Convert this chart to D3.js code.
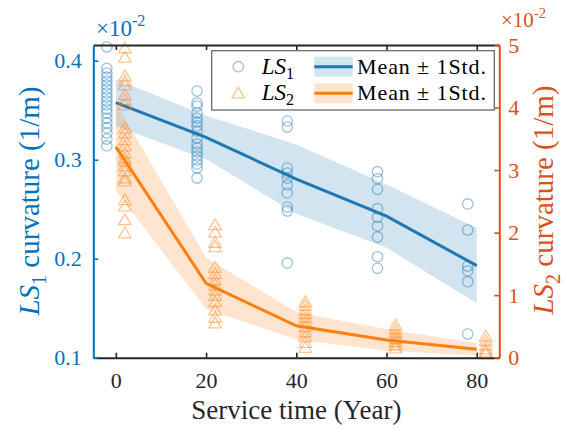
<!DOCTYPE html>
<html><head><meta charset="utf-8">
<script src="https://cdn.jsdelivr.net/npm/d3@7"></script>
<style>body{margin:0;background:#fff}svg{display:block}text{font-family:"Liberation Serif","Times New Roman",serif}</style>
</head><body><svg id="c" width="565" height="430"></svg>
<script>
// ---- data ----
const years = [0, 20, 40, 60, 80];
const xTicks = [0, 20, 40, 60, 80];
const leftTicks = [0.1, 0.2, 0.3, 0.4];
const rightTicks = [0, 1, 2, 3, 4, 5];
// LS1 curvature (x10^-2 1/m) samples per service year
const ls1Y0  = [0.4141,0.3923,0.3876,0.3835,0.3795,0.3755,0.3714,0.3674,0.3633,0.3593,0.3553,0.3512,0.3472,0.3421,0.3371,0.3321,0.3270,0.3209,0.3139];
const ls1Y20 = [0.3694,0.3573,0.3542,0.3472,0.3421,0.3381,0.3341,0.3290,0.3220,0.3159,0.3119,0.3078,0.3037,0.2997,0.2957,0.2916,0.2815];
const ls1Y40 = [0.3391,0.3330,0.2916,0.2866,0.2815,0.2745,0.2664,0.2522,0.2482,0.1957];
const ls1Y60 = [0.2879,0.2808,0.2701,0.2505,0.2418,0.2330,0.2219,0.2020,0.1903];
const ls1Y80 = [0.2553,0.2290,0.1926,0.1876,0.1768,0.1239];
const ls1Mean = [0.3576, 0.3225, 0.2805, 0.2430, 0.1930];
const ls1Std  = [0.0236, 0.0220, 0.0350, 0.0320, 0.0380];
// LS2 curvature (x10^-2 1/m)
const ls2Y0  = [4.95,4.80,4.50,4.42,4.36,4.20,4.12,4.04,3.67,3.59,3.48,3.38,3.27,3.19,3.14,3.06,2.98,2.87,2.82,2.52,2.42,2.20,1.99];
const ls2Y20 = [2.12,2.00,1.84,1.77,1.44,1.34,1.24,1.16,1.08,0.99,0.89,0.76,0.64,0.55];
const ls2Y40 = [0.89,0.83,0.76,0.70,0.64,0.57,0.49,0.41,0.33,0.24,0.16];
const ls2Y60 = [0.52,0.46,0.40,0.35,0.30,0.25,0.20,0.15];
const ls2Y80 = [0.34,0.27,0.20,0.14,0.10,0.06];
const ls2Mean = [3.37, 1.19, 0.51, 0.283, 0.135];
const ls2Std  = [0.70, 0.41, 0.22, 0.17, 0.10];

const ls1Groups = [ls1Y0, ls1Y20, ls1Y40, ls1Y60, ls1Y80];
const ls2Groups = [ls2Y0, ls2Y20, ls2Y40, ls2Y60, ls2Y80];

// ---- styling ----
const C_BLUE = "#1f77b4", C_ORANGE = "#ff7f0e";
const C_LAX = "#0072BD", C_RAX = "#D95319", C_BLACK = "#262626";
const L = 93.3, R = 499.3, T = 45, B = 357.7;
const FONT = '"Liberation Serif","Times New Roman",serif';
const svg = d3.select("#c");

const x = d3.scaleLinear().domain([-5, 85]).range([L, R]);
const yL = d3.scaleLinear().domain([0.1, 0.4159]).range([B, T]);
const yR = d3.scaleLinear().domain([0, 5]).range([B, T]);

const tri = "M0,-6.2L6.3,4.6L-6.3,4.6Z";

const stats1 = years.map((yr, i) => ({yr, m: ls1Mean[i], s: ls1Std[i]}));
const stats2 = years.map((yr, i) => ({yr, m: ls2Mean[i], s: ls2Std[i]}));

// LS1 band + markers + line
svg.append("path").datum(stats1)
  .attr("d", d3.area().x(d => x(d.yr)).y0(d => yL(d.m - d.s)).y1(d => yL(d.m + d.s)))
  .attr("fill", C_BLUE).attr("fill-opacity", 0.2);
ls1Groups.forEach((g, i) => {
  svg.append("g").selectAll("circle").data(g).join("circle")
    .attr("cx", x(years[i] - 2)).attr("cy", d => yL(d)).attr("r", 5.2)
    .attr("fill", "none").attr("stroke", C_BLUE).attr("stroke-opacity", 0.45).attr("stroke-width", 1.3);
});
svg.append("path").datum(stats1)
  .attr("d", d3.line().x(d => x(d.yr)).y(d => yL(d.m)))
  .attr("fill", "none").attr("stroke", C_BLUE).attr("stroke-width", 3);

// LS2 band + markers + line
svg.append("path").datum(stats2)
  .attr("d", d3.area().x(d => x(d.yr)).y0(d => yR(Math.max(0, d.m - d.s))).y1(d => yR(d.m + d.s)))
  .attr("fill", C_ORANGE).attr("fill-opacity", 0.2);
ls2Groups.forEach((g, i) => {
  svg.append("g").selectAll("path").data(g).join("path")
    .attr("d", tri)
    .attr("transform", d => `translate(${x(years[i] + 2)},${yR(d)})`)
    .attr("fill", "none").attr("stroke", C_ORANGE).attr("stroke-opacity", 0.45).attr("stroke-width", 1.3);
});
svg.append("path").datum(stats2)
  .attr("d", d3.line().x(d => x(d.yr)).y(d => yR(d.m)))
  .attr("fill", "none").attr("stroke", C_ORANGE).attr("stroke-width", 3);

// ---- axes ----
function styleAxis(g, color) {
  g.attr("font-family", FONT);
  g.selectAll(".domain").attr("stroke", color).attr("stroke-width", 2);
  g.selectAll(".tick line").attr("stroke", color).attr("stroke-width", 1.6);
  g.selectAll(".tick text").attr("fill", color).attr("font-size", 22).attr("font-family", FONT);
}
const gx = svg.append("g").attr("transform", `translate(0,${B})`)
  .call(d3.axisBottom(x).tickValues(xTicks).tickFormat(d3.format("d")).tickSizeInner(-5).tickSizeOuter(0).tickPadding(15));
styleAxis(gx, C_BLACK);
const gt = svg.append("g").attr("transform", `translate(0,${T})`)
  .call(d3.axisTop(x).tickValues(xTicks).tickFormat("").tickSizeInner(-5).tickSizeOuter(0));
styleAxis(gt, C_BLACK);
const gl = svg.append("g").attr("transform", `translate(${L},0)`)
  .call(d3.axisLeft(yL).tickValues(leftTicks).tickFormat(d3.format(".1f")).tickSizeInner(-5).tickSizeOuter(0).tickPadding(11.5));
styleAxis(gl, C_LAX);
const gr = svg.append("g").attr("transform", `translate(${R},0)`)
  .call(d3.axisRight(yR).tickValues(rightTicks).tickFormat(d3.format("d")).tickSizeInner(-5).tickSizeOuter(0).tickPadding(9));
styleAxis(gr, C_RAX);

// exponent labels
function expo(xp, yp, color, fs) {
  const t = svg.append("text").attr("x", xp).attr("y", yp).attr("fill", color).attr("font-size", fs);
  t.append("tspan").text("×10");
  t.append("tspan").attr("dy", -fs * 0.42).attr("font-size", fs * 0.7).text("-2");
}
expo(96, 36, C_LAX, 23);
expo(501, 27, C_RAX, 21);

// axis titles
function ylab(xp, yp, sub, color) {
  const t = svg.append("text").attr("transform", `translate(${xp},${yp}) rotate(-90)`)
    .attr("text-anchor", "middle").attr("fill", color).attr("font-size", 29);
  t.append("tspan").attr("font-style", "italic").text("LS");
  t.append("tspan").attr("dy", 7).attr("font-size", 20).text(sub);
  t.append("tspan").attr("dy", -7).text(" curvature (1/m)");
}
ylab(39, 201, "1", C_LAX);
ylab(553, 200, "2", C_RAX);
svg.append("text").attr("x", (L + R) / 2).attr("y", 419).attr("text-anchor", "middle")
  .attr("fill", C_BLACK).attr("font-size", 27).text("Service time (Year)");

// ---- legend ----
const lg = svg.append("g");
lg.append("rect").attr("x", 211.7).attr("y", 50.7).attr("width", 282.6).attr("height", 59.3)
  .attr("fill", "#fff").attr("stroke", "#6b6b6b").attr("stroke-width", 1.3);
const rows = [
  {y: 66.7, color: C_BLUE, sub: "1", marker: "c"},
  {y: 93.3, color: C_ORANGE, sub: "2", marker: "t"}
];
rows.forEach(r => {
  if (r.marker === "c") {
    lg.append("circle").attr("cx", 238.3).attr("cy", r.y).attr("r", 5.2).attr("fill", "none")
      .attr("stroke", r.color).attr("stroke-opacity", 0.45).attr("stroke-width", 1.3);
  } else {
    lg.append("path").attr("d", tri).attr("transform", `translate(238.3,${r.y})`).attr("fill", "none")
      .attr("stroke", r.color).attr("stroke-opacity", 0.45).attr("stroke-width", 1.3);
  }
  const t = lg.append("text").attr("x", 261.7).attr("y", r.y + 7).attr("font-size", 23).attr("fill", "#000");
  t.append("tspan").attr("font-style", "italic").text("LS");
  t.append("tspan").attr("dy", 5).attr("font-size", 16).text(r.sub);
  lg.append("rect").attr("x", 314.3).attr("y", r.y - 10).attr("width", 38.4).attr("height", 20)
    .attr("fill", r.color).attr("fill-opacity", 0.2);
  lg.append("line").attr("x1", 314.3).attr("x2", 352.7).attr("y1", r.y).attr("y2", r.y)
    .attr("stroke", r.color).attr("stroke-width", 3);
  lg.append("text").attr("x", 357).attr("y", r.y + 7).attr("font-size", 22).attr("fill", "#000")
    .attr("textLength", 129).attr("lengthAdjust", "spacing").text("Mean ± 1Std.");
});
</script></body></html>
